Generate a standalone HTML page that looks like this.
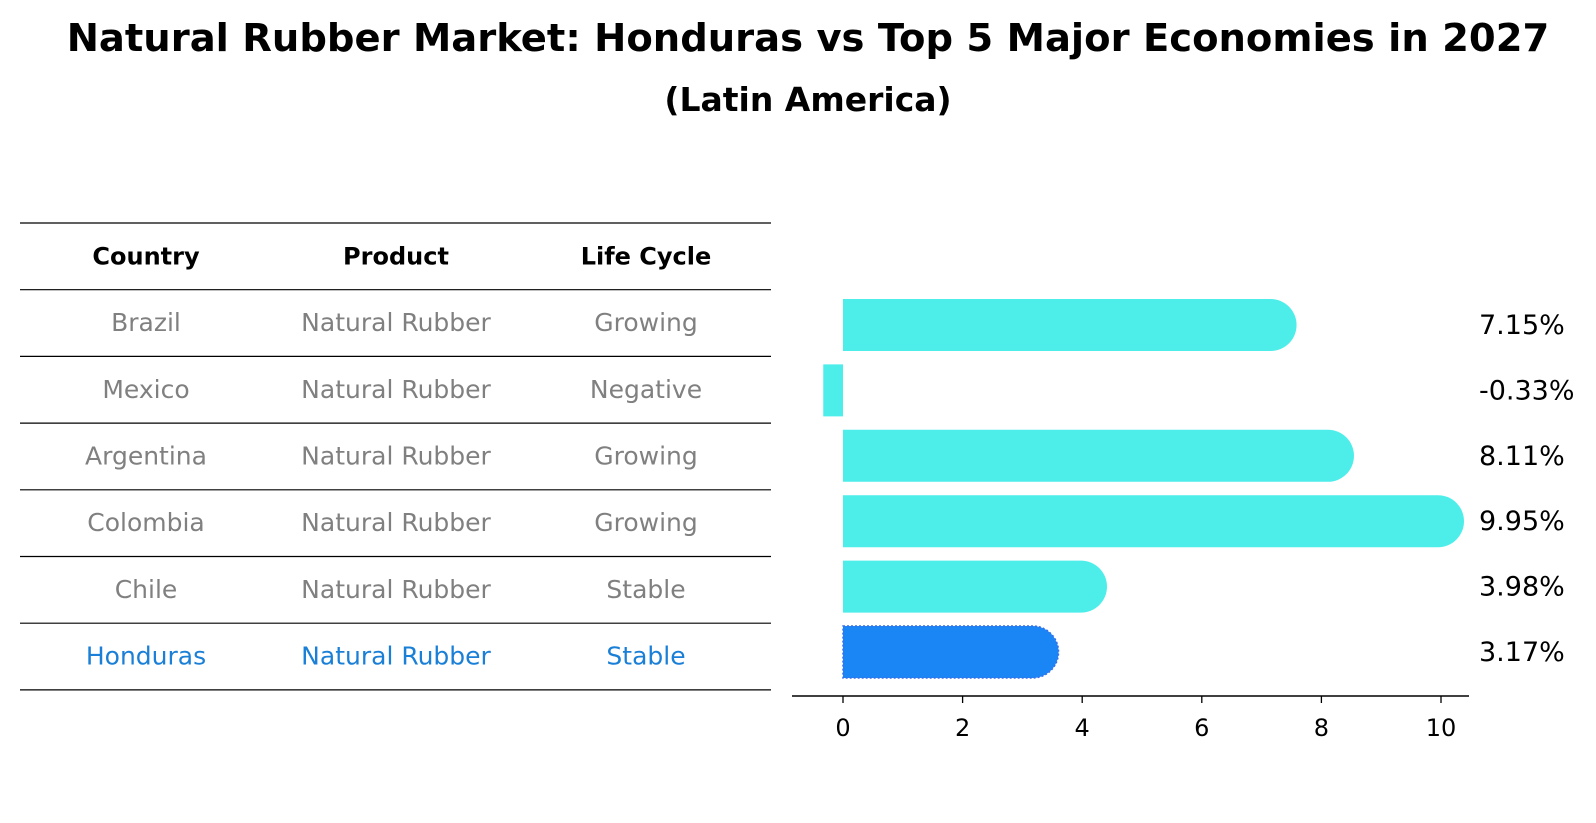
<!DOCTYPE html>
<html><head><meta charset="utf-8"><style>
body{margin:0;background:#fff;}
svg{display:block;font-family:"DejaVu Sans","Liberation Sans",sans-serif;}
</style></head><body>
<svg id="chart" width="1596" height="823" viewBox="0 0 1596 823" xmlns="http://www.w3.org/2000/svg">
<text x="808" y="51" text-anchor="middle" font-size="38.5" font-weight="bold">Natural Rubber Market: Honduras vs Top 5 Major Economies in 2027</text>
<text x="808" y="111" text-anchor="middle" font-size="33" font-weight="bold">(Latin America)</text>
<g id="table"></g>
<g id="bars"></g>
</svg>
<script>
const countries=["Brazil","Mexico","Argentina","Colombia","Chile","Honduras"];
const products=["Natural Rubber","Natural Rubber","Natural Rubber","Natural Rubber","Natural Rubber","Natural Rubber"];
const lifeCycles=["Growing","Negative","Growing","Growing","Stable","Stable"];
const growth=[7.15,-0.33,8.11,9.95,3.98,3.17];
const xTicks=[0,2,4,6,8,10];
const highlight="Honduras";

const NS="http://www.w3.org/2000/svg";
function mk(tag,attrs,parent){const e=document.createElementNS(NS,tag);for(const k in attrs)e.setAttribute(k,attrs[k]);parent.appendChild(e);return e;}
const table=document.getElementById('table');
const bars=document.getElementById('bars');
const colX=[146,396,646];
const lineY0=223, rowH=66.7;
for(let i=0;i<=countries.length+1;i++){
  const y=lineY0+i*rowH;
  const l=mk('line',{x1:20,x2:771,y1:y,y2:y,stroke:'#000','stroke-width':1.2},table);
  
  
}
["Country","Product","Life Cycle"].forEach((h,j)=>{
  const t=mk('text',{x:colX[j],y:lineY0+rowH/2+8,'text-anchor':'middle','font-size':24,'font-weight':'bold'},table);
  t.textContent=h;
  
  
});
countries.forEach((c,i)=>{
  const y=lineY0+(i+1.5)*rowH+8;
  const col=c===highlight?'#1a7fd6':'#808080';
  [c,products[i],lifeCycles[i]].forEach((v,j)=>{
    const t=mk('text',{x:colX[j],y:y,'text-anchor':'middle','font-size':25,fill:col},table);
    t.textContent=v;
    
    
  });
});
const x0=843, pxPer=59.8;
function xs(v){return x0+v*pxPer;}
const rowC0=325, rowStep=65.4, barH=52, r=26;
function ys(i){return rowC0+i*rowStep;}
growth.forEach((v,i)=>{
  const cy=ys(i), top=cy-barH/2;
  const isH=countries[i]===highlight;
  const fill=isH?'#1a86f5':'#4deeea';
  let d;
  const xe=xs(v);
  if(v>=0){
    d=`M${x0},${top} L${xe},${top} A${r},${r} 0 0 1 ${xe},${top+barH} L${x0},${top+barH} Z`;
  } else {
    d=`M${xe},${top} L${x0},${top} L${x0},${top+barH} L${xe},${top+barH} Z`;
  }
  const p=mk('path',{d:d,fill:fill},bars);
  if(isH){p.setAttribute('stroke','#3a6ee8');p.setAttribute('stroke-dasharray','2,2');p.setAttribute('stroke-width','1.5');}
  
  
  const t=mk('text',{x:1479,y:cy+9,'font-size':27},bars);
  t.textContent=v.toFixed(2)+'%';
  
  
});
const ax=mk('line',{x1:792,x2:1469,y1:696,y2:696,stroke:'#000','stroke-width':1.5},bars);


xTicks.forEach(v=>{
  const tk=mk('line',{x1:xs(v),x2:xs(v),y1:696,y2:703,stroke:'#000','stroke-width':1.3},bars);
  
  
  const t=mk('text',{x:xs(v),y:736,'text-anchor':'middle','font-size':24},bars);
  t.textContent=v;
  
  
});
</script>
</body></html>
